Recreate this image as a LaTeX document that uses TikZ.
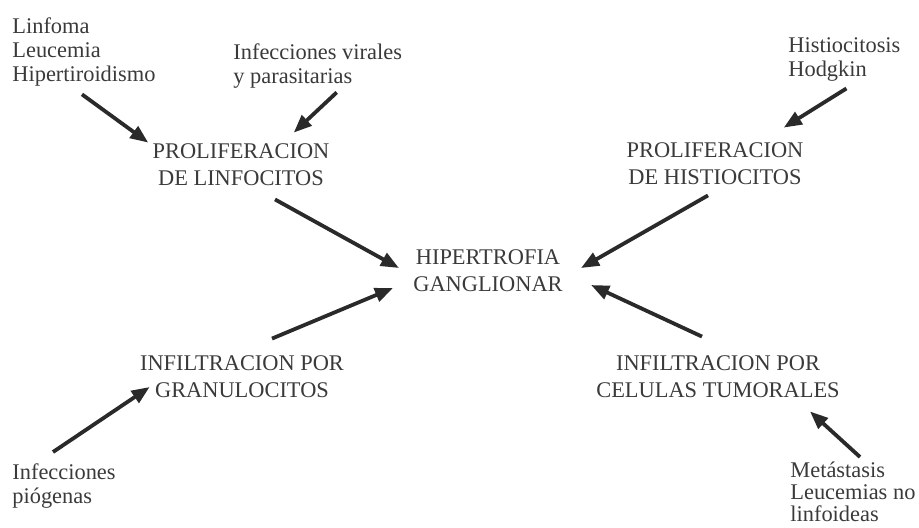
\documentclass[tikz,border=0pt]{standalone}
\usepackage{fontspec}
\setmainfont{Liberation Serif}
\usetikzlibrary{arrows.meta}
\definecolor{ink}{HTML}{3A3A3A}
\definecolor{arrow-ink}{HTML}{2A2A2A}

\begin{document}
\begin{tikzpicture}[x=0.5pt, y=-0.5pt,
    cause/.style={anchor=north west, align=left, inner sep=0pt, text=ink,
                  font=\fontsize{11.2}{12}\selectfont},
    stage/.style={align=center, inner sep=0pt, text=ink,
                  font=\fontsize{11.2}{13.5}\selectfont},
    feed/.style={-{Triangle[length=9pt, width=7pt]}, line width=1.9pt,
                 color=arrow-ink}]
  \useasboundingbox (0,0) rectangle (919,527);

  % causes
  \node[cause] (lin) at (12,17) {Linfoma\\ Leucemia\\ Hipertiroidismo};
  \node[cause] (vir) at (233,43) {Infecciones virales\\ y parasitarias};
  \node[cause] (his) at (788,37) {Histiocitosis\\ Hodgkin};
  \node[cause] (pio) at (12,463) {Infecciones\\ piógenas};
  \node[cause, font=\fontsize{11.2}{10.8}\selectfont] (met) at (790,462)
       {Metástasis\\ Leucemias no\\ linfoideas};

  % intermediate stages
  \node[stage] (plinf) at (241,165) {PROLIFERACION\\ DE LINFOCITOS};
  \node[stage] (phis) at (715,164) {PROLIFERACION\\ DE HISTIOCITOS};
  \node[stage] (igran) at (242,377) {INFILTRACION POR\\ GRANULOCITOS};
  \node[stage] (itum) at (718,377) {INFILTRACION POR\\ CELULAS TUMORALES};
  \node[stage] (hip) at (488,271) {HIPERTROFIA\\ GANGLIONAR};

  % arrows into the stages
  \draw[feed] ([shift={(-2,8)}]lin.south) -- ([shift={(-4,-1)}]plinf.north west);
  \draw[feed] ([shift={(19,4)}]vir.south) -- ([shift={(-36,-11)}]plinf.north east);
  \draw[feed] ([shift={(2,7)}]his.south) -- ([shift={(-20,-15)}]phis.north east);
  \draw[feed] ([shift={(41,-11)}]pio.north west) -- ([shift={(10,10)}]igran.west);
  \draw[feed] ([shift={(70,-5)}]met.north west) -- ([shift={(92,13)}]itum.south);

  % arrows into the centre
  \draw[feed] ([shift={(34,13)}]plinf.south) -- ([shift={(-14,-3)}]hip.west);
  \draw[feed] ([shift={(-7,10)}]phis.south) -- ([shift={(18,-3)}]hip.east);
  \draw[feed] ([shift={(30,-17)}]igran.north) -- ([shift={(-20,17)}]hip.west);
  \draw[feed] ([shift={(-16,-19)}]itum.north) -- ([shift={(28,14)}]hip.east);
\end{tikzpicture}
\end{document}
